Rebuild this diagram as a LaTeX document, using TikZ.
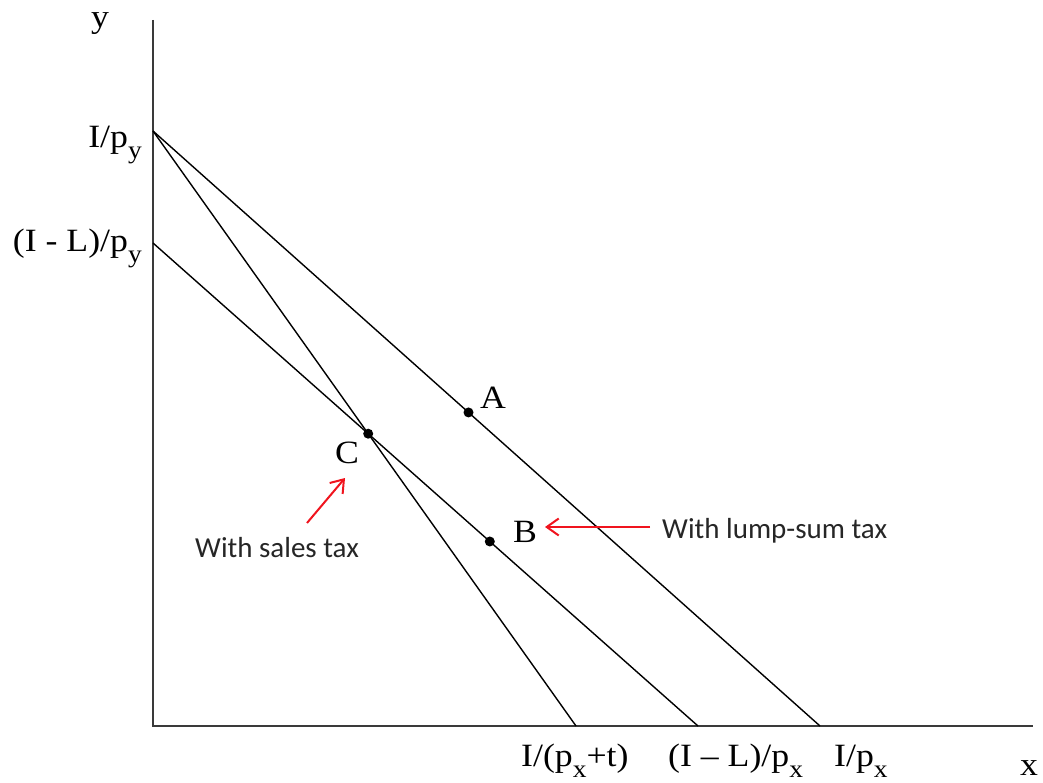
\documentclass[tikz,border=0pt]{standalone}
\usepackage{fontspec}
\setmainfont{Liberation Serif}[FakeStretch=1.1]
\newfontfamily\calib{Carlito}
\usetikzlibrary{arrows.meta,calc,intersections}
\newcommand\sbx[1]{\raisebox{-11pt}{\fontsize{25}{25}\selectfont #1}}
\definecolor{axisgray}{HTML}{3A3A3A}
\definecolor{txtgray}{HTML}{262626}
\definecolor{arrred}{HTML}{F0141E}
\begin{document}
\begin{tikzpicture}[x=1pt,y=-1pt,
  axis/.style={draw=axisgray,line width=2.4pt},
  bline/.style={draw=black,line width=1.4pt},
  lbl/.style={inner sep=0pt,font=\fontsize{32.5}{36}\selectfont},
  note/.style={inner sep=0pt,text=txtgray,font=\calib\fontsize{29}{32}\selectfont},
  dot/.style={circle,fill=black,inner sep=0pt,minimum size=10pt},
  redarrow/.style={draw=arrred,line width=2pt,-{Straight Barb[length=12pt,width=17pt,line width=2pt]}}]
\useasboundingbox (0,0) rectangle (1043,783);
% axes
\coordinate (O) at (153,726);
\coordinate (Ytop) at (153,20);
\coordinate (Xend) at (1033,726);
\draw[axis] (Ytop) -- (O) -- (Xend);
% intercepts
\coordinate (Py) at (153,131);
\coordinate (PyL) at (153,243);
\coordinate (Px) at (820,726);
\coordinate (Pxt) at (576,726);
\coordinate (PxL) at (698,726);
\draw[bline] (Py) -- (Px);
\draw[bline,name path=tax] (Py) -- (Pxt);
\draw[bline,name path=lump] (PyL) -- (PxL);
% points
\node[dot] (A) at ($(Py)!0.473!(Px)$) {};
\node[dot] (B) at ($(PyL)!0.618!(PxL)$) {};
\path[name intersections={of=tax and lump,by=Cpt}];
\node[dot] (C) at (Cpt) {};
% labels
\node[lbl,anchor=base] (ylab) at (100,28) {y};
\node[lbl,anchor=base west] (xlab) at (1020,775) {x};
\node[lbl,anchor=base east] (lPy) at (142,148) {I/p\sbx{y}};
\node[lbl,anchor=base east] (lPyL) at (142,252) {(I - L)/p\sbx{y}};
\node[lbl,anchor=base west] (lPxt) at (521,766) {I/(p\sbx{x}+t)};
\node[lbl,anchor=base west] (lPxL) at (668,766) {(I \textendash{} L)/p\sbx{x}};
\node[lbl,anchor=base west] (lPx) at (834,766) {I/p\sbx{x}};
\node[lbl,anchor=base west] (lA) at (480,408) {A};
\node[lbl,anchor=base west] (lB) at (513,542) {B};
\node[lbl,anchor=base west] (lC) at (335,463) {C};
% notes
\node[note,anchor=base west] (sales) at (195,557) {With sales tax};
\node[note,anchor=base west] (lumpnote) at (662,538) {With lump-sum tax};
\coordinate (tailS) at (307,523);
\coordinate (tipS) at (345,478);
\coordinate (tailL) at (650,527);
\coordinate (tipL) at (545,527);
\draw[redarrow] (tailS) -- (tipS);
\draw[redarrow] (tailL) -- (tipL);
\end{tikzpicture}
\end{document}
